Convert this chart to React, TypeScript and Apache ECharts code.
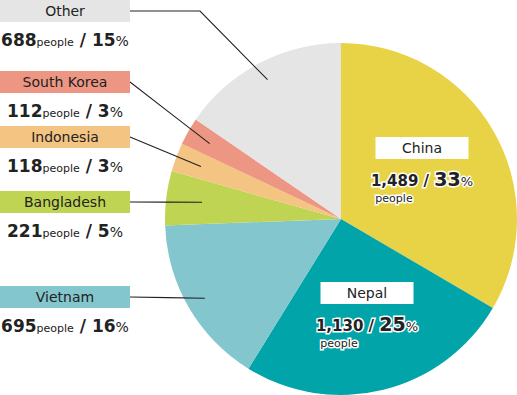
import React, { useEffect, useRef } from 'react';
import * as echarts from 'echarts';

const categories = ['China', 'Nepal', 'Vietnam', 'Bangladesh', 'Indonesia', 'South Korea', 'Other'];
const people = [1489, 1130, 695, 221, 118, 112, 688];
const percents = [33, 25, 16, 5, 3, 3, 15];
const colors = ['#e8d245', '#00a4a9', '#83c6cd', '#bfd453', '#f4c482', '#ec9683', '#e5e5e5'];

const CX = 341;
const CY = 219;
const R = 176;
const FONT = 'DejaVu Sans';
const TXT = '#222';

// inner label placement (center x, top y)
const innerPos: Record<number, [number, number]> = { 0: [422, 128], 1: [367, 273] };
// outer label placement (top y, radius fraction of line end, optional bend x)
const outerPos: Record<number, [number, number, number | null]> = {
  2: [286, 0.895, null],
  3: [191, 0.795, null],
  4: [126, 0.85, null],
  5: [71, 0.86, null],
  6: [0, 0.895, 200],
};

const total = people.reduce((a, b) => a + b, 0);
function midAngle(i: number) {
  let s = 0;
  for (let k = 0; k < i; k++) s += people[k];
  return ((s + people[i] / 2) / total) * Math.PI * 2;
}
function pointAt(i: number, f: number) {
  const a = midAngle(i);
  return [CX + R * f * Math.sin(a), CY - R * f * Math.cos(a)];
}

function innerLabel(i: number) {
  const border = { textBorderColor: '#fff', textBorderWidth: 3 };
  return {
    show: true,
    position: 'inside',
    formatter: `{box|${categories[i]}}\n{num|${people[i].toLocaleString('en-US')}}{sl| / }{pct|${percents[i]}}{pc|%}\n{ppl|people}`,
    rich: {
      box: { width: 93, height: 22, lineHeight: 40, backgroundColor: '#fff', align: 'center', fontSize: 14, color: TXT, fontFamily: FONT },
      num: { fontSize: 15, fontWeight: 'bold', color: TXT, lineHeight: 20, verticalAlign: 'bottom', fontFamily: FONT, ...border },
      sl: { fontSize: 15, fontWeight: 'bold', color: TXT, lineHeight: 20, verticalAlign: 'bottom', fontFamily: FONT, ...border },
      pct: { fontSize: 19, fontWeight: 'bold', color: TXT, lineHeight: 20, verticalAlign: 'bottom', fontFamily: FONT, ...border },
      pc: { fontSize: 13, color: TXT, lineHeight: 20, verticalAlign: 'bottom', fontFamily: FONT, ...border },
      ppl: { fontSize: 11, color: TXT, lineHeight: 20, padding: [0, 56, 0, 0], fontFamily: FONT, ...border },
    },
  };
}

function outerLabel(i: number) {
  return {
    show: true,
    position: 'outside',
    formatter: `{box|${categories[i]}}\n{num|${people[i]}}{ppl|people}{sl| / }{pct|${percents[i]}}{pc|%}`,
    rich: {
      box: { width: 130, height: 22, lineHeight: 22, backgroundColor: colors[i], align: 'center', fontSize: 14, color: TXT, fontFamily: FONT },
      num: { fontSize: 17, fontWeight: 'bold', color: TXT, lineHeight: 26, verticalAlign: 'bottom', fontFamily: FONT },
      ppl: { fontSize: 11, color: TXT, lineHeight: 26, verticalAlign: 'bottom', fontFamily: FONT },
      sl: { fontSize: 17, fontWeight: 'bold', color: TXT, lineHeight: 26, verticalAlign: 'bottom', fontFamily: FONT },
      pct: { fontSize: 17, fontWeight: 'bold', color: TXT, lineHeight: 26, verticalAlign: 'bottom', fontFamily: FONT },
      pc: { fontSize: 14, color: TXT, lineHeight: 26, verticalAlign: 'bottom', fontFamily: FONT },
    },
  };
}

const labelLayout = (params: any) => {
  const i = params.dataIndex;
  if (innerPos[i]) {
    const [x, y] = innerPos[i];
    return { x, y, align: 'center', verticalAlign: 'top' };
  }
  const [top, f, bend] = outerPos[i];
  const end = pointAt(i, f);
  const ly = top + 11;
  const mid = bend != null ? [bend, ly] : [(end[0] + 130) / 2, (end[1] + ly) / 2];
  return {
    x: 65,
    y: top,
    align: 'center',
    verticalAlign: 'top',
    labelLinePoints: [end, mid, [130, ly]],
  };
};

const pieBase = {
  type: 'pie',
  center: [CX, CY],
  radius: R,
  startAngle: 90,
  clockwise: true,
  silent: true,
  emphasis: { disabled: true },
  labelLayout,
};

export default function App() {
  const ref = useRef<HTMLDivElement>(null);
  useEffect(() => {
    const chart = echarts.init(ref.current!, null, { renderer: 'svg' });
    chart.setOption({
      animation: false,
      textStyle: { fontFamily: FONT },
      series: [
        {
          ...pieBase,
          z: 2,
          labelLine: { show: false },
          data: categories.map((name, i) => ({
            name,
            value: people[i],
            itemStyle: { color: colors[i] },
            label: i < 2 ? innerLabel(i) : { show: false },
            labelLine: { show: false },
          })),
        },
        {
          ...pieBase,
          z: 5,
          labelLine: { show: true, showAbove: true, length: 10, length2: 10, lineStyle: { color: '#222', width: 1.1 } },
          data: categories.map((name, i) => ({
            name,
            value: people[i],
            itemStyle: { color: 'rgba(0,0,0,0)' },
            label: i >= 2 ? outerLabel(i) : { show: false },
            labelLine: { show: i >= 2 },
          })),
        },
      ],
    });
    return () => chart.dispose();
  }, []);
  return <div ref={ref} style={{ position: 'absolute', left: 0, top: 0, width: 517, height: 395 }} />;
}
